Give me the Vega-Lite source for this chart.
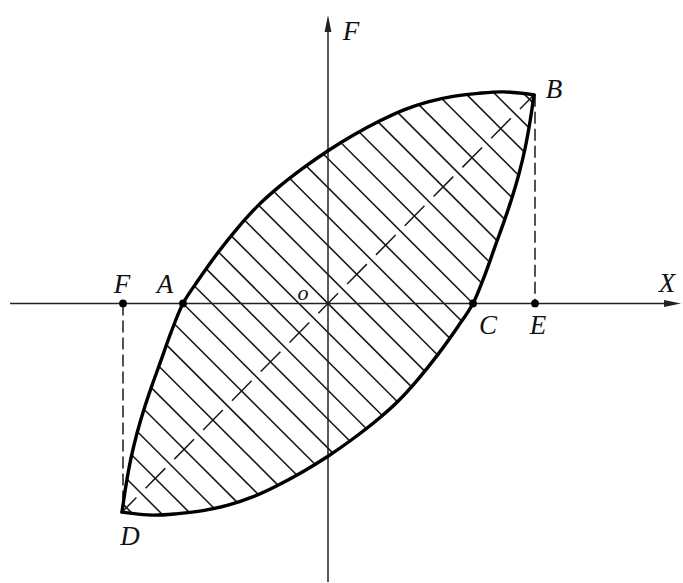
{
  "$schema": "https://vega.github.io/schema/vega-lite/v6.json",
  "width": 683,
  "height": 583,
  "autosize": {"type": "fit", "contains": "padding"},
  "padding": 0,
  "background": "white",
  "config": {"view": {"stroke": null}},
  "datasets": {
    "loop": [
      {"part": "upper", "i": 0, "x": -206, "y": -209},
      {"part": "upper", "i": 1, "x": -202, "y": -182},
      {"part": "upper", "i": 2, "x": -197, "y": -155},
      {"part": "upper", "i": 3, "x": -191, "y": -130},
      {"part": "upper", "i": 4, "x": -184, "y": -106},
      {"part": "upper", "i": 5, "x": -176, "y": -82},
      {"part": "upper", "i": 6, "x": -167, "y": -57},
      {"part": "upper", "i": 7, "x": -157, "y": -29},
      {"part": "upper", "i": 8, "x": -145, "y": 0},
      {"part": "upper", "i": 9, "x": -130, "y": 23},
      {"part": "upper", "i": 10, "x": -110, "y": 51},
      {"part": "upper", "i": 11, "x": -90, "y": 76},
      {"part": "upper", "i": 12, "x": -70, "y": 98},
      {"part": "upper", "i": 13, "x": -50, "y": 116},
      {"part": "upper", "i": 14, "x": -25, "y": 135.5},
      {"part": "upper", "i": 15, "x": 0, "y": 153},
      {"part": "upper", "i": 16, "x": 26, "y": 169},
      {"part": "upper", "i": 17, "x": 52, "y": 183},
      {"part": "upper", "i": 18, "x": 76, "y": 194},
      {"part": "upper", "i": 19, "x": 100, "y": 202},
      {"part": "upper", "i": 20, "x": 125, "y": 207.5},
      {"part": "upper", "i": 21, "x": 150, "y": 210.5},
      {"part": "upper", "i": 22, "x": 175, "y": 212},
      {"part": "upper", "i": 23, "x": 206, "y": 209},
      {"part": "lower", "i": 0, "x": 206, "y": 209},
      {"part": "lower", "i": 1, "x": 202, "y": 182},
      {"part": "lower", "i": 2, "x": 197, "y": 155},
      {"part": "lower", "i": 3, "x": 191, "y": 130},
      {"part": "lower", "i": 4, "x": 184, "y": 106},
      {"part": "lower", "i": 5, "x": 176, "y": 82},
      {"part": "lower", "i": 6, "x": 167, "y": 57},
      {"part": "lower", "i": 7, "x": 157, "y": 29},
      {"part": "lower", "i": 8, "x": 145, "y": 0},
      {"part": "lower", "i": 9, "x": 130, "y": -23},
      {"part": "lower", "i": 10, "x": 110, "y": -51},
      {"part": "lower", "i": 11, "x": 90, "y": -76},
      {"part": "lower", "i": 12, "x": 70, "y": -98},
      {"part": "lower", "i": 13, "x": 50, "y": -116},
      {"part": "lower", "i": 14, "x": 25, "y": -135.5},
      {"part": "lower", "i": 15, "x": 0, "y": -153},
      {"part": "lower", "i": 16, "x": -26, "y": -169},
      {"part": "lower", "i": 17, "x": -52, "y": -183},
      {"part": "lower", "i": 18, "x": -76, "y": -194},
      {"part": "lower", "i": 19, "x": -100, "y": -202},
      {"part": "lower", "i": 20, "x": -125, "y": -207.5},
      {"part": "lower", "i": 21, "x": -150, "y": -210.5},
      {"part": "lower", "i": 22, "x": -175, "y": -212},
      {"part": "lower", "i": 23, "x": -206, "y": -209}
    ],
    "hatch": [
      {"x": -83.33, "y": 83.33, "x2": 83.33, "y2": -83.33},
      {"x": -69.47, "y": 98.47, "x2": 96.7, "y2": -67.7},
      {"x": -54.2, "y": 112.2, "x2": 109.6, "y2": -51.6},
      {"x": -38.2, "y": 125.2, "x2": 121.7, "y2": -34.7},
      {"x": -21.8, "y": 137.8, "x2": 133.55, "y2": -17.55},
      {"x": -4.7, "y": 149.7, "x2": 145, "y2": 0},
      {"x": 13, "y": 161, "x2": 153.5, "y2": 20.5},
      {"x": 31.2, "y": 171.8, "x2": 161.5, "y2": 41.5},
      {"x": 50.05, "y": 181.95, "x2": 169.1, "y2": 62.9},
      {"x": 69.8, "y": 191.2, "x2": 176.75, "y2": 84.25},
      {"x": 91, "y": 199, "x2": 184, "y2": 106},
      {"x": 113.9, "y": 205.1, "x2": 190.5, "y2": 128.5},
      {"x": 138.8, "y": 209.2, "x2": 196.2, "y2": 151.8},
      {"x": 165.6, "y": 211.4, "x2": 200.9, "y2": 176.1},
      {"x": 196, "y": 210, "x2": 204.8, "y2": 201.2},
      {"x": -96.7, "y": 67.7, "x2": 69.47, "y2": -98.47},
      {"x": -109.6, "y": 51.6, "x2": 54.2, "y2": -112.2},
      {"x": -121.7, "y": 34.7, "x2": 38.2, "y2": -125.2},
      {"x": -133.55, "y": 17.55, "x2": 21.8, "y2": -137.8},
      {"x": -145, "y": 0, "x2": 4.7, "y2": -149.7},
      {"x": -153.5, "y": -20.5, "x2": -13, "y2": -161},
      {"x": -161.5, "y": -41.5, "x2": -31.2, "y2": -171.8},
      {"x": -169.1, "y": -62.9, "x2": -50.05, "y2": -181.95},
      {"x": -176.75, "y": -84.25, "x2": -69.8, "y2": -191.2},
      {"x": -184, "y": -106, "x2": -91, "y2": -199},
      {"x": -190.5, "y": -128.5, "x2": -113.9, "y2": -205.1},
      {"x": -196.2, "y": -151.8, "x2": -138.8, "y2": -209.2},
      {"x": -200.9, "y": -176.1, "x2": -165.6, "y2": -211.4},
      {"x": -204.8, "y": -201.2, "x2": -196, "y2": -210}
    ],
    "axes": [
      {"name": "X", "x": -318, "y": 0, "x2": 346, "y2": 0},
      {"name": "F", "x": 0, "y": -279, "x2": 0, "y2": 283}
    ],
    "verticals": [
      {"name": "BE", "x": 207, "y": 209, "x2": 207, "y2": 0},
      {"name": "FD", "x": -205, "y": 0, "x2": -205, "y2": -209}
    ],
    "diagonal": [
      {"name": "DB", "x": -206, "y": -209, "x2": 206, "y2": 209}
    ],
    "arrowX": [{"x": 344.5, "y": 0}],
    "arrowY": [{"x": 0, "y": 280.5}],
    "dots": [
      {"name": "F", "x": -205, "y": 0},
      {"name": "A", "x": -145, "y": 0},
      {"name": "C", "x": 145, "y": 0},
      {"name": "E", "x": 207, "y": 0}
    ],
    "labels": [
      {"label": "F", "x": 23, "y": 272},
      {"label": "B", "x": 226, "y": 214},
      {"label": "X", "x": 339, "y": 20},
      {"label": "F", "x": -206, "y": 19},
      {"label": "A", "x": -163, "y": 19},
      {"label": "C", "x": 160, "y": -23},
      {"label": "E", "x": 210, "y": -23},
      {"label": "D", "x": -198, "y": -234}
    ],
    "small": [
      {"label": "o", "x": -25, "y": 10}
    ]
  },
  "layer": [
    {
      "data": {"name": "hatch"},
      "mark": {"type": "rule", "strokeWidth": 1.6, "color": "#1a1a1a"},
      "encoding": {
        "x": {"field": "x", "type": "quantitative", "scale": {"domain": [-328, 355], "nice": false, "zero": false}, "axis": null},
        "y": {"field": "y", "type": "quantitative", "scale": {"domain": [-279, 304], "nice": false, "zero": false}, "axis": null},
        "x2": {"field": "x2"},
        "y2": {"field": "y2"}
      }
    },
    {
      "data": {"name": "axes"},
      "mark": {"type": "rule", "strokeWidth": 1.5, "color": "#222222"},
      "encoding": {
        "x": {"field": "x", "type": "quantitative", "scale": {"domain": [-328, 355], "nice": false, "zero": false}, "axis": null},
        "y": {"field": "y", "type": "quantitative", "scale": {"domain": [-279, 304], "nice": false, "zero": false}, "axis": null},
        "x2": {"field": "x2"},
        "y2": {"field": "y2"}
      }
    },
    {
      "data": {"name": "verticals"},
      "mark": {"type": "rule", "strokeWidth": 1.5, "color": "#1a1a1a", "strokeDash": [12, 5]},
      "encoding": {
        "x": {"field": "x", "type": "quantitative", "scale": {"domain": [-328, 355], "nice": false, "zero": false}, "axis": null},
        "y": {"field": "y", "type": "quantitative", "scale": {"domain": [-279, 304], "nice": false, "zero": false}, "axis": null},
        "x2": {"field": "x2"},
        "y2": {"field": "y2"}
      }
    },
    {
      "data": {"name": "diagonal"},
      "mark": {"type": "rule", "strokeWidth": 1.5, "color": "#1a1a1a", "strokeDash": [28, 13], "strokeDashOffset": 7.5},
      "encoding": {
        "x": {"field": "x", "type": "quantitative", "scale": {"domain": [-328, 355], "nice": false, "zero": false}, "axis": null},
        "y": {"field": "y", "type": "quantitative", "scale": {"domain": [-279, 304], "nice": false, "zero": false}, "axis": null},
        "x2": {"field": "x2"},
        "y2": {"field": "y2"}
      }
    },
    {
      "data": {"name": "loop"},
      "mark": {"type": "line", "strokeWidth": 3.4, "color": "#000000", "interpolate": "catmull-rom", "strokeCap": "round", "strokeJoin": "round"},
      "encoding": {
        "x": {"field": "x", "type": "quantitative", "scale": {"domain": [-328, 355], "nice": false, "zero": false}, "axis": null},
        "y": {"field": "y", "type": "quantitative", "scale": {"domain": [-279, 304], "nice": false, "zero": false}, "axis": null},
        "detail": {"field": "part"},
        "order": {"field": "i", "type": "quantitative"}
      }
    },
    {
      "data": {"name": "arrowX"},
      "mark": {"type": "point", "shape": "M1,0L-1,-0.4L-1,0.4Z", "size": 289, "filled": true, "color": "#222222", "opacity": 1},
      "encoding": {
        "x": {"field": "x", "type": "quantitative", "scale": {"domain": [-328, 355], "nice": false, "zero": false}, "axis": null},
        "y": {"field": "y", "type": "quantitative", "scale": {"domain": [-279, 304], "nice": false, "zero": false}, "axis": null}
      }
    },
    {
      "data": {"name": "arrowY"},
      "mark": {"type": "point", "shape": "M0,-1L0.4,1L-0.4,1Z", "size": 289, "filled": true, "color": "#222222", "opacity": 1},
      "encoding": {
        "x": {"field": "x", "type": "quantitative", "scale": {"domain": [-328, 355], "nice": false, "zero": false}, "axis": null},
        "y": {"field": "y", "type": "quantitative", "scale": {"domain": [-279, 304], "nice": false, "zero": false}, "axis": null}
      }
    },
    {
      "data": {"name": "dots"},
      "mark": {"type": "point", "shape": "circle", "size": 60, "filled": true, "color": "#000000", "opacity": 1},
      "encoding": {
        "x": {"field": "x", "type": "quantitative", "scale": {"domain": [-328, 355], "nice": false, "zero": false}, "axis": null},
        "y": {"field": "y", "type": "quantitative", "scale": {"domain": [-279, 304], "nice": false, "zero": false}, "axis": null}
      }
    },
    {
      "data": {"name": "labels"},
      "mark": {"type": "text", "font": "Liberation Serif", "fontStyle": "italic", "fontSize": 27, "color": "#111111", "align": "center", "baseline": "middle"},
      "encoding": {
        "x": {"field": "x", "type": "quantitative", "scale": {"domain": [-328, 355], "nice": false, "zero": false}, "axis": null},
        "y": {"field": "y", "type": "quantitative", "scale": {"domain": [-279, 304], "nice": false, "zero": false}, "axis": null},
        "text": {"field": "label"}
      }
    },
    {
      "data": {"name": "small"},
      "mark": {"type": "text", "font": "Liberation Serif", "fontStyle": "italic", "fontSize": 22, "color": "#111111", "align": "center", "baseline": "middle"},
      "encoding": {
        "x": {"field": "x", "type": "quantitative", "scale": {"domain": [-328, 355], "nice": false, "zero": false}, "axis": null},
        "y": {"field": "y", "type": "quantitative", "scale": {"domain": [-279, 304], "nice": false, "zero": false}, "axis": null},
        "text": {"field": "label"}
      }
    }
  ]
}
